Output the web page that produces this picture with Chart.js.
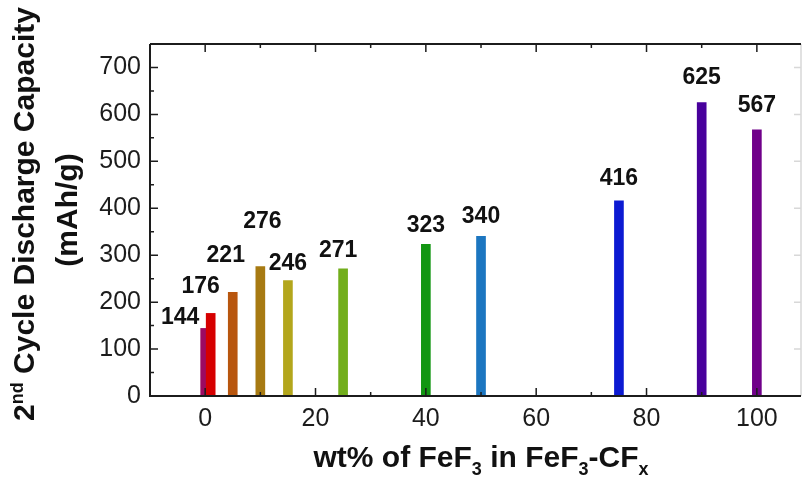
<!DOCTYPE html>
<html>
<head>
<meta charset="utf-8">
<script src="https://cdn.jsdelivr.net/npm/chart.js@4"></script>
<style>
  html, body { margin: 0; padding: 0; background: #fff; }
  #wrap { width: 803px; height: 478px; }
</style>
</head>
<body>
<div id="wrap"><canvas id="capChart" width="803" height="478"></canvas></div>
<script>
// data
const wtPercent = [0, 1, 5, 10, 15, 25, 40, 50, 75, 90, 100];
const capacity = [144, 176, 221, 276, 246, 271, 323, 340, 416, 625, 567];
const barColors = ["#9c0a62", "#d60000", "#b8560e", "#a77a12", "#b3a61c", "#72ae1c",
    "#129612", "#1c76c0", "#0c1ad2", "#48009c", "#70008a"];
const xTicks = [0, 20, 40, 60, 80, 100];
const xMinor = [-10, 10, 30, 50, 70, 90];
const yTicks = [0, 100, 200, 300, 400, 500, 600, 700];
const yMinor = [50, 150, 250, 350, 450, 550, 650, 750];

const FONT = "'Liberation Sans', Arial, sans-serif";
const INK = "#1c1c1c";

// label placement next to each bar (pixels, relative to bar top)
const labelShift = [[-25, -4], [-10, -20], [-7, -30], [2, -38], [0, -11], [-5, -12],
    [0, -12], [0, -13], [0, -16], [0, -19], [0, -18]];

const framePlugin = {
    id: "frame",
    afterDatasetsDraw(chart) {
        const { ctx, chartArea: a, scales } = chart;
        const xs = scales.x, ys = scales.y;
        ctx.save();
        // value labels
        ctx.font = "bold 23px " + FONT;
        ctx.fillStyle = "#111";
        ctx.textAlign = "center";
        ctx.textBaseline = "alphabetic";
        wtPercent.forEach((w, i) => {
            const px = xs.getPixelForValue(w) + labelShift[i][0];
            const py = ys.getPixelForValue(capacity[i]) + labelShift[i][1];
            ctx.fillText(String(capacity[i]), px, py);
        });

        // right border (faint)
        ctx.strokeStyle = "#d8d8d8";
        ctx.lineWidth = 1.5;
        ctx.beginPath();
        ctx.moveTo(a.right, a.top);
        ctx.lineTo(a.right, a.bottom);
        yTicks.forEach((v) => {
            const y = ys.getPixelForValue(v);
            ctx.moveTo(a.right, y);
            ctx.lineTo(a.right - 7, y);
        });
        ctx.stroke();

        // frame
        ctx.strokeStyle = INK;
        ctx.lineWidth = 2;
        ctx.beginPath();
        ctx.moveTo(a.left, a.top);
        ctx.lineTo(a.left, a.bottom);
        ctx.lineTo(a.right, a.bottom);
        ctx.moveTo(a.left, a.top);
        ctx.lineTo(a.right, a.top);
        ctx.stroke();

        ctx.lineWidth = 1.5;
        ctx.beginPath();
        xTicks.forEach((v) => {
            const x = xs.getPixelForValue(v);
            ctx.moveTo(x, a.bottom); ctx.lineTo(x, a.bottom - 8);
            ctx.moveTo(x, a.top); ctx.lineTo(x, a.top + 8);
        });
        xMinor.forEach((v) => {
            const x = xs.getPixelForValue(v);
            ctx.moveTo(x, a.bottom); ctx.lineTo(x, a.bottom - 4);
            ctx.moveTo(x, a.top); ctx.lineTo(x, a.top + 4);
        });
        yTicks.forEach((v) => {
            const y = ys.getPixelForValue(v);
            ctx.moveTo(a.left, y); ctx.lineTo(a.left + 8, y);
        });
        yMinor.forEach((v) => {
            const y = ys.getPixelForValue(v);
            ctx.moveTo(a.left, y); ctx.lineTo(a.left + 4, y);
        });
        ctx.stroke();

        // axis titles
        ctx.fillStyle = "#111";
        ctx.textAlign = "left";
        const big = "bold 30px " + FONT, small = "bold 18px " + FONT;

        // x title with subscripts
        const parts = [["wt% of FeF", 0], ["3", 1], [" in FeF", 0], ["3", 1], ["-CF", 0], ["x", 1]];
        const widthOf = (p) => { ctx.font = p[1] ? small : big; return ctx.measureText(p[0]).width; };
        let total = parts.reduce((s, p) => s + widthOf(p), 0);
        let cx = 481 - total / 2;
        parts.forEach((p) => {
            ctx.font = p[1] ? small : big;
            ctx.fillText(p[0], cx, p[1] ? 475 : 467);
            cx += ctx.measureText(p[0]).width;
        });

        // y title, rotated
        ctx.translate(34, 214);
        ctx.rotate(-Math.PI / 2);
        const yparts = [["2", 0], ["nd", 2], [" Cycle Discharge Capacity", 0]];
        total = yparts.reduce((s, p) => s + widthOf(p), 0);
        cx = -total / 2;
        yparts.forEach((p) => {
            ctx.font = p[1] ? small : big;
            ctx.fillText(p[0], cx, p[1] ? -11 : 0);
            cx += ctx.measureText(p[0]).width;
        });
        ctx.font = big;
        ctx.textAlign = "center";
        ctx.fillText("(mAh/g)", 4, 43);
        ctx.restore();
    }
};

const ctx = document.getElementById("capChart").getContext("2d");
new Chart(ctx, {
    type: "bar",
    data: {
        datasets: [
            {
                data: wtPercent.map((w, i) => ({ x: w, y: capacity[i] })),
                backgroundColor: barColors,
                borderWidth: 0,
                barThickness: 9,
            },
        ],
    },
    options: {
        responsive: false,
        animation: false,
        layout: { padding: { top: 44, right: 2, left: 0, bottom: 0 } },
        scales: {
            x: {
                type: "linear",
                min: -10,
                max: 108,
                offset: false,
                afterBuildTicks: (s) => { s.ticks = xTicks.map((v) => ({ value: v })); },
                afterFit: (s) => { s.height = 82; },
                grid: { display: false, drawTicks: false },
                border: { display: false },
                ticks: { color: INK, font: { family: FONT, size: 25 }, padding: 8, maxRotation: 0 },
            },
            y: {
                min: 0,
                max: 750,
                afterBuildTicks: (s) => { s.ticks = yTicks.map((v) => ({ value: v })); },
                afterFit: (s) => { s.width = 150; },
                grid: { display: false, drawTicks: false },
                border: { display: false },
                ticks: { color: INK, font: { family: FONT, size: 25 }, padding: 9 },
            },
        },
        plugins: { legend: { display: false }, tooltip: { enabled: false } },
    },
    plugins: [framePlugin],
});
</script>
</body>
</html>
